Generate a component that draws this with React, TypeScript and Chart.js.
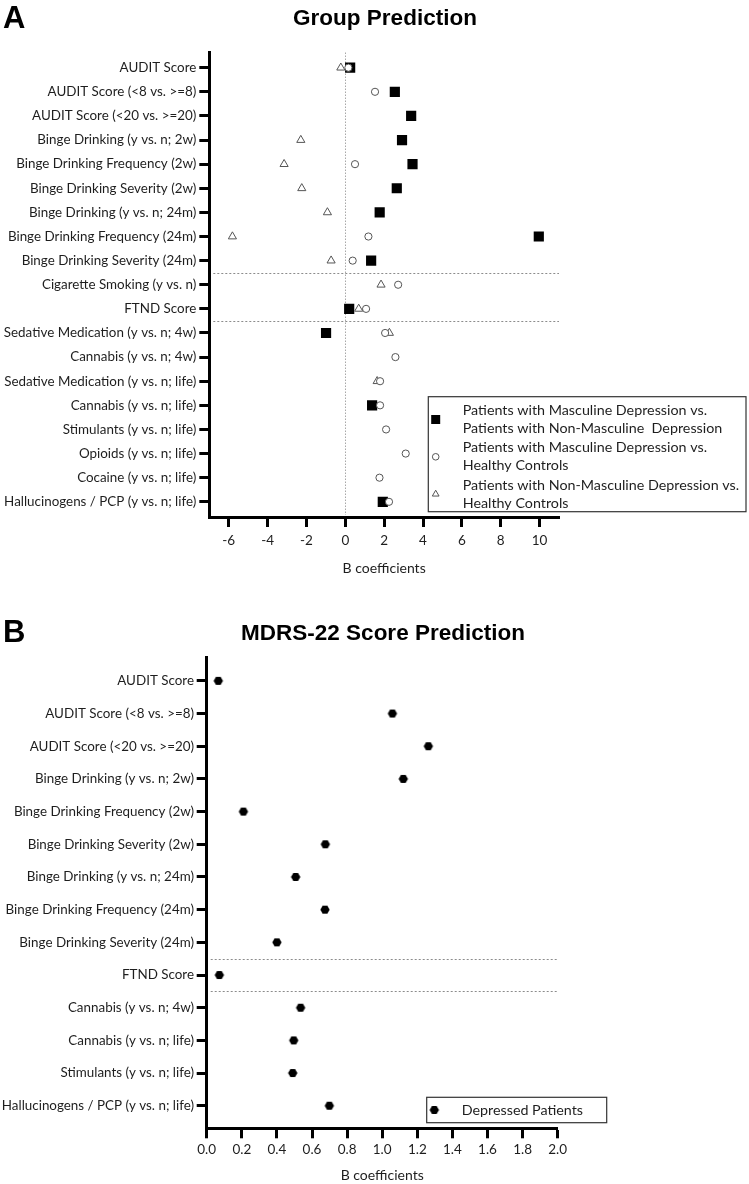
import React, { useEffect, useRef } from 'react';
import { Chart, registerables } from 'chart.js';

Chart.register(...registerables);

// ---------- Panel A data ----------
const categoriesA = [
  'AUDIT Score',
  'AUDIT Score (<8 vs. >=8)',
  'AUDIT Score (<20 vs. >=20)',
  'Binge Drinking (y vs. n; 2w)',
  'Binge Drinking Frequency (2w)',
  'Binge Drinking Severity (2w)',
  'Binge Drinking (y vs. n; 24m)',
  'Binge Drinking Frequency (24m)',
  'Binge Drinking Severity (24m)',
  'Cigarette Smoking (y vs. n)',
  'FTND Score',
  'Sedative Medication (y vs. n; 4w)',
  'Cannabis (y vs. n; 4w)',
  'Sedative Medication (y vs. n; life)',
  'Cannabis (y vs. n; life)',
  'Stimulants (y vs. n; life)',
  'Opioids (y vs. n; life)',
  'Cocaine (y vs. n; life)',
  'Hallucinogens / PCP (y vs. n; life)',
];
const mascVsNonMasc = [0.25, 2.55, 3.39, 2.92, 3.46, 2.65, 1.77, 9.96, 1.33, null, 0.2, -0.99, null, null, 1.38, null, null, null, 1.93];
const mascVsHC = [0.16, 1.53, null, null, 0.5, null, null, 1.19, 0.38, 2.72, 1.07, 2.05, 2.58, 1.79, 1.79, 2.1, 3.11, 1.76, 2.25];
const nonMascVsHC = [-0.23, null, null, -2.29, -3.15, -2.24, -0.92, -5.81, -0.73, 1.84, 0.69, 2.27, null, 1.64, null, null, null, null, null];
const xTicksA = [-6, -4, -2, 0, 2, 4, 6, 8, 10];
const separatorsA = [8.5, 10.5];
const legendLabelsA = [
  ['Patients with Masculine Depression vs.', 'Patients with Non-Masculine  Depression'],
  ['Patients with Masculine Depression vs.', 'Healthy Controls'],
  ['Patients with Non-Masculine Depression vs.', 'Healthy Controls'],
];

// ---------- Panel B data ----------
const categoriesB = [
  'AUDIT Score',
  'AUDIT Score (<8 vs. >=8)',
  'AUDIT Score (<20 vs. >=20)',
  'Binge Drinking (y vs. n; 2w)',
  'Binge Drinking Frequency (2w)',
  'Binge Drinking Severity (2w)',
  'Binge Drinking (y vs. n; 24m)',
  'Binge Drinking Frequency (24m)',
  'Binge Drinking Severity (24m)',
  'FTND Score',
  'Cannabis (y vs. n; 4w)',
  'Cannabis (y vs. n; life)',
  'Stimulants (y vs. n; life)',
  'Hallucinogens / PCP (y vs. n; life)',
];
const depressedPatients = [0.066, 1.058, 1.263, 1.12, 0.209, 0.676, 0.507, 0.674, 0.4, 0.072, 0.535, 0.496, 0.49, 0.699];
const xTicksB = [0, 0.2, 0.4, 0.6, 0.8, 1.0, 1.2, 1.4, 1.6, 1.8, 2.0];
const separatorsB = [8.5, 9.5];
const legendLabelsB = [['Depressed Patients']];

const FONT = 'Lato, "Liberation Sans", sans-serif';
const TEXT = '#1e1e1e';
const MARK_GRAY = '#555';
const Y_LABEL_SIZE = 13.4;
const X_TICK_SIZE = 13.5;
const AXIS_TITLE_SIZE = 14;
const LEGEND_SIZE = 14.3;

function toPoints(vals: (number | null)[]) {
  const out: { x: number; y: number }[] = [];
  vals.forEach((v, i) => {
    if (v !== null && v !== undefined) out.push({ x: v, y: i });
  });
  return out;
}

function makeHexagon(r: number) {
  const c = document.createElement('canvas');
  const s = Math.ceil(r * 2 + 2);
  c.width = s;
  c.height = s;
  const g = c.getContext('2d')!;
  g.fillStyle = '#000';
  g.beginPath();
  for (let k = 0; k < 6; k++) {
    const a = (Math.PI / 3) * k;
    const px = s / 2 + r * Math.cos(a);
    const py = s / 2 + r * Math.sin(a);
    if (k === 0) g.moveTo(px, py);
    else g.lineTo(px, py);
  }
  g.closePath();
  g.fill();
  return c;
}

function drawMarker(ctx: CanvasRenderingContext2D, kind: string, x: number, y: number, hex?: HTMLCanvasElement) {
  ctx.save();
  ctx.setLineDash([]);
  if (kind === 'rect') {
    ctx.fillStyle = '#000';
    ctx.fillRect(x - 4.5, y - 4.5, 9, 9);
  } else if (kind === 'circle') {
    ctx.beginPath();
    ctx.arc(x, y, 3.3, 0, Math.PI * 2);
    ctx.fillStyle = '#fff';
    ctx.fill();
    ctx.strokeStyle = MARK_GRAY;
    ctx.lineWidth = 1;
    ctx.stroke();
  } else if (kind === 'triangle') {
    const r = 3.9;
    ctx.beginPath();
    ctx.moveTo(x, y - r);
    ctx.lineTo(x + 0.866 * r, y + 0.5 * r);
    ctx.lineTo(x - 0.866 * r, y + 0.5 * r);
    ctx.closePath();
    ctx.fillStyle = '#fff';
    ctx.fill();
    ctx.strokeStyle = MARK_GRAY;
    ctx.lineWidth = 1;
    ctx.stroke();
  } else if (kind === 'hex' && hex) {
    ctx.drawImage(hex, x - hex.width / 2, y - hex.height / 2);
  }
  ctx.restore();
}

function guidesPlugin(separators: number[], zeroLine: boolean) {
  return {
    id: 'guides',
    beforeDatasetsDraw(chart: any) {
      const { ctx, chartArea, scales } = chart;
      ctx.save();
      ctx.lineWidth = 1;
      ctx.strokeStyle = '#8c8c8c';
      ctx.setLineDash([2, 2]);
      separators.forEach((s) => {
        const y = Math.round(scales.y.getPixelForValue(s)) + 0.5;
        ctx.beginPath();
        ctx.moveTo(chartArea.left + 4, y);
        ctx.lineTo(chartArea.right, y);
        ctx.stroke();
      });
      if (zeroLine) {
        const x = Math.round(scales.x.getPixelForValue(0)) + 0.5;
        ctx.strokeStyle = '#a8a8a8';
        ctx.setLineDash([1.5, 1.5]);
        ctx.beginPath();
        ctx.moveTo(x, chartArea.top);
        ctx.lineTo(x, chartArea.bottom - 2);
        ctx.stroke();
      }
      ctx.restore();
    },
  };
}

type LegendSpec = {
  box: { x: number; y: number; w: number; h: number };
  markerX: number;
  textX: number;
  firstY: number;
  step: number;
  lineGap: number;
  markers: string[];
  labels: string[][];
  fontSize: number;
  hex?: HTMLCanvasElement;
};

function legendPlugin(spec: LegendSpec) {
  return {
    id: 'boxLegend',
    afterDraw(chart: any) {
      const ctx: CanvasRenderingContext2D = chart.ctx;
      ctx.save();
      ctx.fillStyle = '#fff';
      ctx.fillRect(spec.box.x, spec.box.y, spec.box.w, spec.box.h);
      ctx.strokeStyle = '#333';
      ctx.lineWidth = 1.2;
      ctx.setLineDash([]);
      ctx.strokeRect(spec.box.x, spec.box.y, spec.box.w, spec.box.h);
      ctx.font = `${spec.fontSize}px ${FONT}`;
      ctx.textAlign = 'left';
      ctx.textBaseline = 'middle';
      spec.labels.forEach((lines, i) => {
        const cy = spec.firstY + i * spec.step;
        drawMarker(ctx, spec.markers[i], spec.markerX, cy, spec.hex);
        const n = lines.length;
        lines.forEach((t, j) => {
          const ly = cy + (j - (n - 1) / 2) * spec.lineGap;
          ctx.fillStyle = TEXT;
          ctx.fillText(t, spec.textX, ly);
        });
      });
      ctx.restore();
    },
  };
}

function axisCommon() {
  return {
    grid: { drawOnChartArea: false, drawTicks: true, tickLength: 10, tickWidth: 3, tickColor: '#000', color: '#000' },
    border: { display: true, color: '#000', width: 3 },
  };
}

export default function App() {
  const refA = useRef<HTMLCanvasElement>(null);
  const refB = useRef<HTMLCanvasElement>(null);

  useEffect(() => {
    const hex = makeHexagon(4.7);

    const chartA = new Chart(refA.current!, {
      type: 'scatter',
      data: {
        datasets: [
          {
            label: legendLabelsA[0].join(' '),
            data: toPoints(mascVsNonMasc),
            pointStyle: 'rect',
            pointRadius: 7.2,
            pointHoverRadius: 7.2,
            backgroundColor: '#000',
            borderColor: '#000',
            borderWidth: 0,
            order: 3,
          },
          {
            label: legendLabelsA[2].join(' '),
            data: toPoints(nonMascVsHC),
            pointStyle: 'triangle',
            pointRadius: 4.7,
            pointHoverRadius: 4.7,
            backgroundColor: '#fff',
            borderColor: MARK_GRAY,
            borderWidth: 1,
            order: 2,
          },
          {
            label: legendLabelsA[1].join(' '),
            data: toPoints(mascVsHC),
            pointStyle: 'circle',
            pointRadius: 3.6,
            pointHoverRadius: 3.6,
            backgroundColor: '#fff',
            borderColor: MARK_GRAY,
            borderWidth: 1,
            order: 1,
          },
        ],
      },
      options: {
        responsive: false,
        animation: false,
        devicePixelRatio: 1,
        layout: { padding: { left: 0, right: 190, top: 52.5, bottom: 0 } },
        plugins: { legend: { display: false }, tooltip: { enabled: false }, title: { display: false } },
        scales: {
          x: {
            type: 'linear',
            min: -7,
            max: 11,
            afterBuildTicks: (s: any) => {
              s.ticks = xTicksA.map((v) => ({ value: v }));
            },
            afterFit: (s: any) => {
              s.height = 73;
            },
            ticks: {
              autoSkip: false,
              maxRotation: 0,
              padding: 6,
              color: TEXT,
              font: { family: FONT, size: X_TICK_SIZE },
              callback: (v: any) => String(v),
            },
            title: {
              display: true,
              text: 'B coefficients',
              color: TEXT,
              font: { family: FONT, size: AXIS_TITLE_SIZE },
              padding: { top: 0, bottom: 13 },
            },
            ...axisCommon(),
          },
          y: {
            type: 'linear',
            reverse: true,
            min: -0.63,
            max: 18.63,
            afterBuildTicks: (s: any) => {
              s.ticks = categoriesA.map((_, i) => ({ value: i }));
            },
            afterFit: (s: any) => {
              s.width = 209.3;
            },
            ticks: {
              autoSkip: false,
              padding: 3,
              color: TEXT,
              font: { family: FONT, size: Y_LABEL_SIZE },
              callback: (v: any) => categoriesA[v],
            },
            ...axisCommon(),
          },
        },
      },
      plugins: [
        guidesPlugin(separatorsA, true),
        legendPlugin({
          box: { x: 428.3, y: 396.7, w: 317.7, h: 115 },
          markerX: 435.7,
          textX: 462.7,
          firstY: 419.5,
          step: 37.3,
          lineGap: 18,
          markers: ['rect', 'circle', 'triangle'],
          labels: legendLabelsA,
          fontSize: LEGEND_SIZE,
        }),
      ],
    } as any);

    const chartB = new Chart(refB.current!, {
      type: 'scatter',
      data: {
        datasets: [
          {
            label: legendLabelsB[0][0],
            data: toPoints(depressedPatients),
            pointStyle: hex,
            pointRadius: 4.7,
            backgroundColor: '#000',
            borderColor: '#000',
            borderWidth: 0,
          },
        ],
      },
      options: {
        responsive: false,
        animation: false,
        devicePixelRatio: 1,
        layout: { padding: { left: 0, right: 749 - 557.7, top: 57.3, bottom: 0 } },
        plugins: { legend: { display: false }, tooltip: { enabled: false }, title: { display: false } },
        scales: {
          x: {
            type: 'linear',
            min: 0,
            max: 2,
            afterBuildTicks: (s: any) => {
              s.ticks = xTicksB.map((v) => ({ value: v }));
            },
            afterFit: (s: any) => {
              s.height = 584 - 528.3;
            },
            ticks: {
              autoSkip: false,
              maxRotation: 0,
              padding: 3.6,
              color: TEXT,
              font: { family: FONT, size: X_TICK_SIZE },
              callback: (v: any) => Number(v).toFixed(1),
            },
            title: {
              display: true,
              text: 'B coefficients',
              color: TEXT,
              font: { family: FONT, size: AXIS_TITLE_SIZE },
              padding: { top: 0, bottom: 0 },
            },
            ...axisCommon(),
          },
          y: {
            type: 'linear',
            reverse: true,
            min: -0.72,
            max: 13.69,
            afterBuildTicks: (s: any) => {
              s.ticks = categoriesB.map((_, i) => ({ value: i }));
            },
            afterFit: (s: any) => {
              s.width = 206.7;
            },
            ticks: {
              autoSkip: false,
              padding: 2.7,
              color: TEXT,
              font: { family: FONT, size: Y_LABEL_SIZE },
              callback: (v: any) => categoriesB[v],
            },
            ...axisCommon(),
          },
        },
      },
      plugins: [
        guidesPlugin(separatorsB, false),
        legendPlugin({
          box: { x: 426.7, y: 497.3, w: 180, h: 25.4 },
          markerX: 434.3,
          textX: 461.7,
          firstY: 510,
          step: 0,
          lineGap: 0,
          markers: ['hex'],
          labels: legendLabelsB,
          fontSize: LEGEND_SIZE,
          hex,
        }),
      ],
    } as any);

    return () => {
      chartA.destroy();
      chartB.destroy();
    };
  }, []);

  const bold = (fs: number, baseline: number, left: number, center: boolean, text: string) => (
    <div
      style={{
        position: 'absolute',
        top: baseline - 0.8465 * fs,
        left,
        transform: center ? 'translateX(-50%)' : undefined,
        fontFamily: '"Liberation Sans", Arial, sans-serif',
        fontWeight: 700,
        fontSize: fs,
        lineHeight: `${fs}px`,
        whiteSpace: 'nowrap',
        color: '#000',
      }}
    >
      {text}
    </div>
  );

  return (
    <div style={{ position: 'absolute', left: 0, top: 0, width: 749, height: 1184, overflow: 'hidden', background: '#fff' }}>
      <canvas ref={refA} width={749} height={590} style={{ position: 'absolute', left: 0, top: 0, display: 'block' }} />
      <canvas ref={refB} width={749} height={584} style={{ position: 'absolute', left: 0, top: 600, display: 'block' }} />
      {bold(31, 28.6, 3, false, 'A')}
      {bold(22.5, 25.7, 385, true, 'Group Prediction')}
      {bold(31, 641.8, 3, false, 'B')}
      {bold(22.5, 641, 383, true, 'MDRS-22 Score Prediction')}
    </div>
  );
}
